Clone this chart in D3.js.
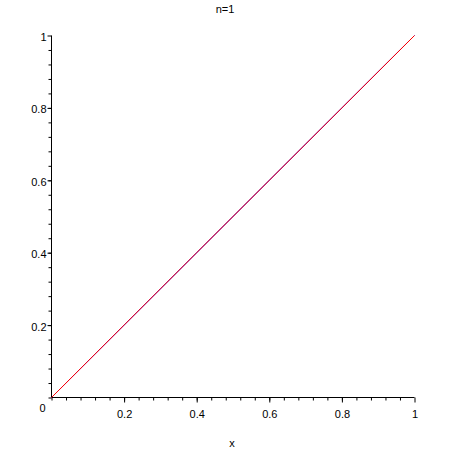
<!DOCTYPE html>
<html>
<head>
<meta charset="utf-8">
<script src="https://cdn.jsdelivr.net/npm/d3@7"></script>
<style>
  body { margin: 0; background: #fff; }
  text { font-family: "Liberation Sans", Arial, sans-serif; font-size: 11px; fill: #000; }
</style>
</head>
<body>
<div id="chart"></div>
<script>
// approximation (red) and the target function f(x) = x (blue)
const approxX = [0, 0.1, 0.2, 0.3, 0.4, 0.5, 0.6, 0.7, 0.8, 0.9, 1];
const approxY = [0, 0.1, 0.2, 0.3, 0.4, 0.5, 0.6, 0.7, 0.8, 0.9, 1];
const targetX = [0, 1];
const targetY = [0, 1];
const majorTicks = [0.2, 0.4, 0.6, 0.8, 1];
const minorTicks = d3.range(0, 25).map(i => i * 0.04);
const title = 'n=1';
const xLabel = 'x';

const width = 450, height = 450;
const svg = d3.select('#chart').append('svg')
  .attr('width', width)
  .attr('height', height);

const x = d3.scaleLinear().domain([0, 1]).range([51.5, 414.5]);
const y = d3.scaleLinear().domain([0, 1]).range([397.5, 35.5]);

// title and axis label
svg.append('text')
  .attr('x', 225).attr('y', 13)
  .attr('text-anchor', 'middle')
  .text(title);
svg.append('text')
  .attr('x', 232).attr('y', 447)
  .attr('text-anchor', 'middle')
  .text(xLabel);

// x axis
const xAxis = svg.append('g').attr('transform', `translate(0,${y(0)})`);
xAxis.append('g')
  .call(d3.axisBottom(x).tickValues(minorTicks).tickSize(3).tickFormat(''))
  .call(g => g.select('.domain').remove());
xAxis.append('g')
  .call(d3.axisBottom(x).tickValues(majorTicks).tickSize(5).tickPadding(8).tickFormat(d3.format('~g')))
  .call(g => g.select('.domain').remove())
  .call(g => g.selectAll('text').style('font-size', '11px').style('font-family', '"Liberation Sans", Arial, sans-serif'));
xAxis.append('line')
  .attr('x1', x(0)).attr('x2', x(1))
  .attr('stroke', '#000');

// y axis
const yAxis = svg.append('g').attr('transform', `translate(${x(0)},0)`);
yAxis.append('g')
  .call(d3.axisLeft(y).tickValues(minorTicks).tickSize(3).tickFormat(''))
  .call(g => g.select('.domain').remove());
yAxis.append('g')
  .call(d3.axisLeft(y).tickValues(majorTicks).tickSize(4).tickPadding(1).tickFormat(d3.format('~g')))
  .call(g => g.select('.domain').remove())
  .call(g => g.selectAll('text').attr('dy', '0.45em').style('font-size', '11px').style('font-family', '"Liberation Sans", Arial, sans-serif'));
yAxis.append('line')
  .attr('y1', y(0)).attr('y2', y(1))
  .attr('stroke', '#000');

// origin label
svg.append('text')
  .attr('x', x(0) - 6).attr('y', y(0) + 14)
  .attr('text-anchor', 'end')
  .text('0');

const line = d3.line()
  .x(d => x(d[0]))
  .y(d => y(d[1]));

svg.append('path')
  .datum(d3.zip(targetX, targetY))
  .attr('fill', 'none')
  .attr('stroke', '#0000ff')
  .attr('stroke-width', 1)
  .attr('d', line);

svg.append('path')
  .datum(d3.zip(approxX, approxY))
  .attr('fill', 'none')
  .attr('stroke', '#ff0000')
  .attr('stroke-width', 1)
  .attr('d', line);
</script>
</body>
</html>
